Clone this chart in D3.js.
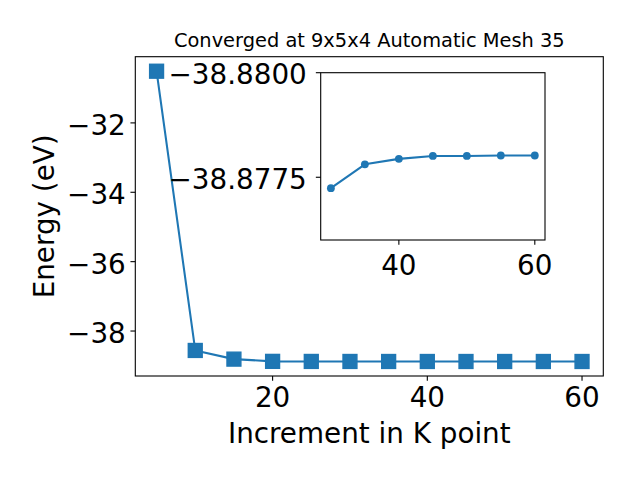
<!DOCTYPE html>
<html><head><meta charset="utf-8">
<script src="https://cdn.jsdelivr.net/npm/d3@7/dist/d3.min.js"></script>
<style>html,body{margin:0;padding:0;background:#fff;}svg{display:block;font-family:"DejaVu Sans",sans-serif;}</style>
</head><body>
<svg id="c" width="640" height="480"></svg>
<script>
// ---- data ----
const kPoints = [5, 10, 15, 20, 25, 30, 35, 40, 45, 50, 55, 60];
const energies = [-30.51, -38.56, -38.81, -38.8745, -38.8765, -38.87724, -38.87781, -38.87794, -38.87801, -38.87801, -38.87802, -38.87802];
const insetK = [30, 35, 40, 45, 50, 55, 60];
const insetE = [-38.87724, -38.87781, -38.87794, -38.87801, -38.87801, -38.87802, -38.87802];
const mainXTicks = [20, 40, 60];
const mainYTicks = [-32, -34, -36, -38];
const insetXTicks = [40, 60];
const insetYTicks = [-38.8800, -38.8775];
const insetYLimits = [-38.8760, -38.8800];
const titleText = "Converged at 9x5x4 Automatic Mesh 35";
const xLabelText = "Increment in K point";
const yLabelText = "Energy (eV)";

const C0 = "#1f77b4";
const svg = d3.select("#c");
const minus = s => s.replace(/-/g, "\u2212");

function pad(ext, f) { const d = ext[1] - ext[0]; return [ext[0] - d * f, ext[1] + d * f]; }

// main axes
const L = 135.3, R = 603.3, T = 56.7, B = 376;
const x = d3.scaleLinear().domain(pad(d3.extent(kPoints), 0.05)).range([L, R]);
const y = d3.scaleLinear().domain(pad(d3.extent(energies), 0.05)).range([B, T]);

const g = svg.append("g");
const tickLen = 4.86;
// ticks main
g.selectAll(".xt").data(mainXTicks).enter().append("line")
  .attr("x1", d => x(d)).attr("x2", d => x(d)).attr("y1", B).attr("y2", B + tickLen)
  .attr("stroke", "#000").attr("stroke-width", 1.1);
g.selectAll(".xl").data(mainXTicks).enter().append("text")
  .attr("x", d => x(d)).attr("y", 406.7).attr("text-anchor", "middle")
  .attr("font-size", 27.8).text(d => minus(String(d)));
g.selectAll(".yt").data(mainYTicks).enter().append("line")
  .attr("y1", d => y(d)).attr("y2", d => y(d)).attr("x1", L).attr("x2", L - tickLen)
  .attr("stroke", "#000").attr("stroke-width", 1.1);
g.selectAll(".yl").data(mainYTicks).enter().append("text")
  .attr("x", L - 2 * tickLen + 0.2).attr("y", d => y(d) + 12.2).attr("text-anchor", "end")
  .attr("font-size", 27.8).text(d => minus(String(d)));

// line + markers
const line = d3.line().x((d, i) => x(kPoints[i])).y(d => y(d));
g.append("path").datum(energies).attr("d", line).attr("fill", "none")
  .attr("stroke", C0).attr("stroke-width", 2.08).attr("stroke-linejoin", "round");
const ms = 13.9;
g.selectAll(".sq").data(energies).enter().append("rect")
  .attr("x", (d, i) => x(kPoints[i]) - ms / 2).attr("y", d => y(d) - ms / 2)
  .attr("width", ms).attr("height", ms).attr("fill", C0).attr("stroke", C0).attr("stroke-width", 1.39);

// frame
g.append("rect").attr("x", L).attr("y", T).attr("width", R - L).attr("height", B - T)
  .attr("fill", "none").attr("stroke", "#000").attr("stroke-width", 1.1);

// labels
svg.append("text").attr("x", (L + R) / 2).attr("y", 47.3).attr("text-anchor", "middle")
  .attr("font-size", 19.4).text(titleText);
svg.append("text").attr("x", (L + R) / 2).attr("y", 443.3).attr("text-anchor", "middle")
  .attr("font-size", 27.8).text(xLabelText);
svg.append("text").attr("transform", `translate(54.3,${(T + B) / 2}) rotate(-90)`)
  .attr("text-anchor", "middle").attr("font-size", 27.8).text(yLabelText);

// inset
const iL = 320.7, iR = 545, iT = 72.7, iB = 240;
const ix = d3.scaleLinear().domain(pad(d3.extent(insetK), 0.05)).range([iL, iR]);
const iy = d3.scaleLinear().domain(insetYLimits).range([iB, iT]);
const ig = svg.append("g");
ig.append("rect").attr("x", iL).attr("y", iT).attr("width", iR - iL).attr("height", iB - iT).attr("fill", "#fff");
ig.append("path").datum(insetE)
  .attr("d", d3.line().x((d, i) => ix(insetK[i])).y(d => iy(d)))
  .attr("fill", "none").attr("stroke", C0).attr("stroke-width", 2.08).attr("stroke-linejoin", "round");
ig.selectAll(".ci").data(insetE).enter().append("circle")
  .attr("cx", (d, i) => ix(insetK[i])).attr("cy", d => iy(d)).attr("r", 3.9).attr("fill", C0);
ig.selectAll(".ixt").data(insetXTicks).enter().append("line")
  .attr("x1", d => ix(d)).attr("x2", d => ix(d)).attr("y1", iB).attr("y2", iB + tickLen)
  .attr("stroke", "#000").attr("stroke-width", 1.1);
ig.selectAll(".ixl").data(insetXTicks).enter().append("text")
  .attr("x", d => ix(d)).attr("y", 275).attr("text-anchor", "middle")
  .attr("font-size", 27.8).text(d => String(d));
ig.selectAll(".iyt").data(insetYTicks).enter().append("line")
  .attr("y1", d => iy(d)).attr("y2", d => iy(d)).attr("x1", iL).attr("x2", iL - tickLen)
  .attr("stroke", "#000").attr("stroke-width", 1.1);
ig.selectAll(".iyl").data(insetYTicks).enter().append("text")
  .attr("x", 306.8).attr("y", d => iy(d) + 11.3).attr("text-anchor", "end")
  .attr("font-size", 27.8).text(d => minus(d.toFixed(4)));
ig.append("rect").attr("x", iL).attr("y", iT).attr("width", iR - iL).attr("height", iB - iT)
  .attr("fill", "none").attr("stroke", "#000").attr("stroke-width", 1.1);
</script>
</body></html>
